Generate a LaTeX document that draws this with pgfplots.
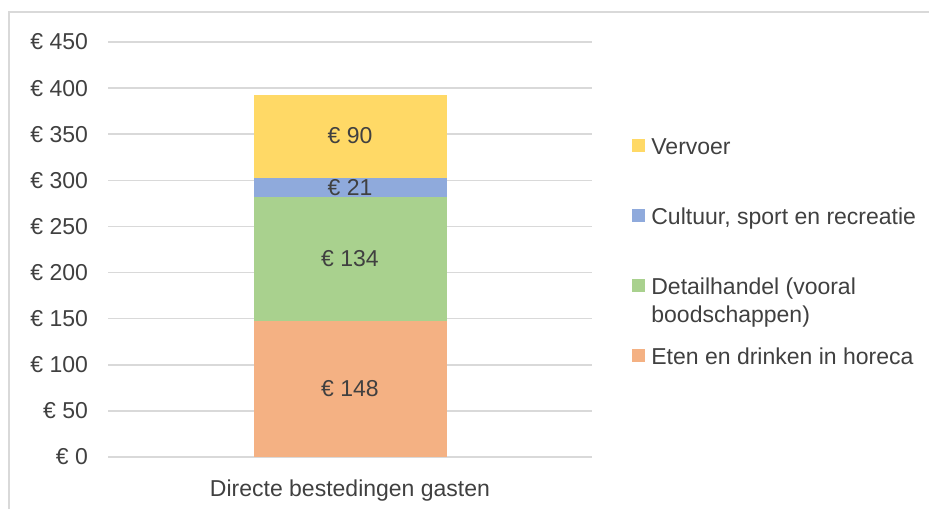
\documentclass[border=0pt]{standalone}
\usepackage{pgfplots}
\pgfplotsset{compat=1.18}
\usepackage{fontspec}
\setmainfont{Liberation Sans}
\definecolor{vervoer}{HTML}{FFD966}
\definecolor{cultuur}{HTML}{8FAADC}
\definecolor{detail}{HTML}{A9D18E}
\definecolor{horeca}{HTML}{F4B183}
\definecolor{gridgray}{HTML}{D9D9D9}
\definecolor{textgray}{HTML}{404040}
\begin{document}
\fontsize{11.5}{14}\selectfont
\begin{tikzpicture}[x=1pt,y=1pt]
\path[use as bounding box] (0,0) rectangle (464.5,254.5);
\draw[gridgray, line width=0.75pt] (4.5,0) -- (4.5,248.5) -- (464.5,248.5);
\begin{axis}[
  at={(54pt,26pt)}, anchor=south west,
  width=242pt, height=207.5pt, scale only axis,
  ybar stacked, bar width=96.5pt,
  xmin=-1, xmax=1, ymin=0, ymax=450,
  xtick={0}, xticklabels={Directe bestedingen gasten},
  ytick={0,50,...,450},
  /pgf/number format/assume math mode=true,
  yticklabel={€ \pgfmathprintnumber{\tick}},
  tick label style={text=textgray},
  xticklabel shift=7.5pt, yticklabel shift=6pt,
  axis line style={draw=none},
  major tick length=0pt,
  ymajorgrids, grid style={gridgray, line width=0.75pt},
  point meta=rawy,
  nodes near coords={€ \pgfmathprintnumber{\pgfplotspointmeta}},
  every node near coord/.append style={text=textgray, anchor=center},
  reverse legend,
  legend cell align=left,
  legend image code/.code={\fill[#1] (0pt,-1.75pt) rectangle (6.5pt,4.75pt);},
  legend style={at={(1.0702,0.4892)}, anchor=west, draw=none, fill=none,
    text=textgray, row sep=24.5pt, column sep=3pt,
    nodes={inner sep=0pt, text height=8pt, text depth=2.5pt}},
]
\addplot[fill=horeca, draw=none] coordinates {(0,148)};
\addlegendentry{Eten en drinken in horeca}
\addplot[fill=detail, draw=none] coordinates {(0,134)};
\addlegendentry{\begin{tabular}[t]{@{}l@{}}Detailhandel (vooral\\boodschappen)\end{tabular}}
\addplot[fill=cultuur, draw=none] coordinates {(0,21)};
\addlegendentry{Cultuur, sport en recreatie}
\addplot[fill=vervoer, draw=none] coordinates {(0,90)};
\addlegendentry{Vervoer}
\end{axis}
\end{tikzpicture}
\end{document}
